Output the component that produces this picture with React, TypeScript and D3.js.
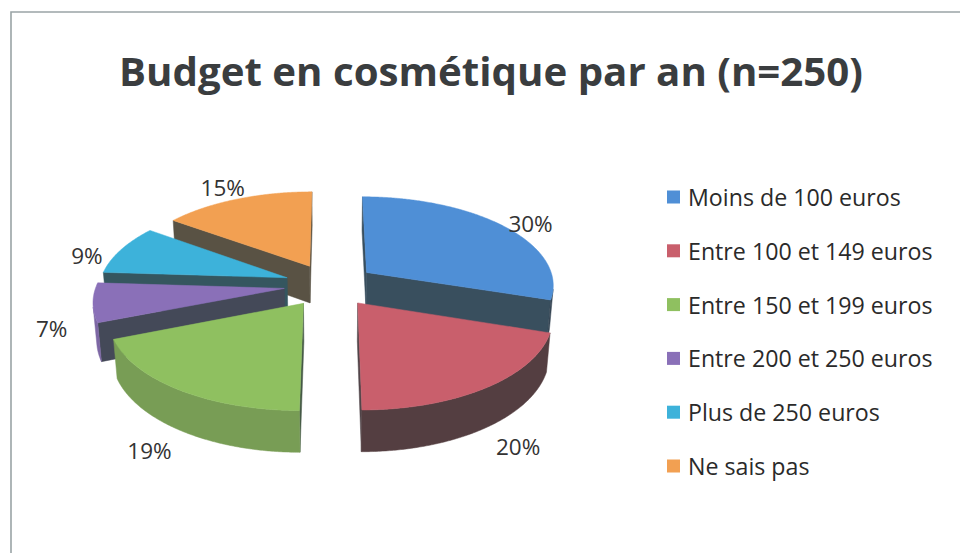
import React from "react";
import * as d3 from "d3";

const title = "Budget en cosmétique par an (n=250)";
const categories = [
  "Moins de 100 euros",
  "Entre 100 et 149 euros",
  "Entre 150 et 199 euros",
  "Entre 200 et 250 euros",
  "Plus de 250 euros",
  "Ne sais pas",
];
const values = [30, 20, 19, 7, 9, 15];
const colors = ["#4f8fd6", "#c95f6c", "#8fc060", "#8a70b8", "#3db2da", "#f2a052"];

const W = 960;
const H = 553;
const CX = 330;
const CY = 285;
const R = 188;
const EXPLODE = 46;
const DEPTH = 43;
const SIN_E = 0.47;
const COS_E = Math.sqrt(1 - SIN_E * SIN_E);
const DIST = 1300;
const CAM = [0, -DIST * COS_E, DIST * SIN_E];
const FONT = "'Open Sans', 'Liberation Sans', sans-serif";

type V3 = [number, number, number];

function project(p: V3): [number, number] {
  const [X, Y, Z] = p;
  const yc = Y * COS_E - Z * SIN_E;
  const k = DIST / (DIST + yc);
  return [CX + X * k, CY - (Y * SIN_E + Z * COS_E) * k];
}

function visible(n: V3, q: V3) {
  return n[0] * (CAM[0] - q[0]) + n[1] * (CAM[1] - q[1]) + n[2] * (CAM[2] - q[2]) > 0;
}

const line = d3.line();
function facePath(pts: V3[]) {
  return line(pts.map(project)) + "Z";
}

type Face = { d: string; fill: string };

function buildSlice(a0: number, a1: number, color: string) {
  const m = (a0 + a1) / 2;
  const ox = EXPLODE * Math.sin(m);
  const oy = EXPLODE * Math.cos(m);
  const rim = (phi: number, z: number): V3 => [ox + R * Math.sin(phi), oy + R * Math.cos(phi), z];
  const apexT: V3 = [ox, oy, 0];
  const apexB: V3 = [ox, oy, -DEPTH];
  const faces: Face[] = [];
  const radial = d3.interpolateRgb(color, "#333f40")(0.8);
  const t = Math.max(0.15, Math.min(0.8, 0.5 + 0.45 * Math.sin(m)));
  const outer = d3.interpolateRgb(color, "#303434")(t);

  const nS: V3 = [-Math.cos(a0), Math.sin(a0), 0];
  if (visible(nS, apexT)) {
    faces.push({ d: facePath([apexT, rim(a0, 0), rim(a0, -DEPTH), apexB]), fill: radial });
  }
  const nE: V3 = [Math.cos(a1), -Math.sin(a1), 0];
  if (visible(nE, apexT)) {
    faces.push({ d: facePath([apexT, rim(a1, 0), rim(a1, -DEPTH), apexB]), fill: radial });
  }
  const steps = Math.max(2, Math.ceil((a1 - a0) / (Math.PI / 360)));
  const vis: number[] = [];
  for (let i = 0; i < steps; i++) {
    const pm = a0 + ((a1 - a0) * (i + 0.5)) / steps;
    const n: V3 = [Math.sin(pm), Math.cos(pm), 0];
    if (visible(n, rim(pm, -DEPTH / 2))) vis.push(i);
  }
  if (vis.length) {
    const i0 = vis[0];
    const i1 = vis[vis.length - 1] + 1;
    const topArc: V3[] = [];
    const botArc: V3[] = [];
    for (let i = i0; i <= i1; i++) {
      const p = a0 + ((a1 - a0) * i) / steps;
      topArc.push(rim(p, 0));
      botArc.push(rim(p, -DEPTH));
    }
    faces.push({ d: facePath([...topArc, ...botArc.reverse()]), fill: outer });
  }
  const topPts: V3[] = [apexT];
  for (let i = 0; i <= steps; i++) topPts.push(rim(a0 + ((a1 - a0) * i) / steps, 0));
  faces.push({ d: facePath(topPts), fill: color });
  return { faces, depth: Math.cos(m), m };
}

export default function App() {
  const arcs = d3.pie<number>().sort(null).startAngle(0).endAngle(2 * Math.PI)(values);
  const slices = arcs.map((a, i) => ({ ...buildSlice(a.startAngle, a.endAngle, colors[i]), i }));
  const ordered = [...slices].sort((a, b) => b.depth - a.depth);
  const LABEL_R = 276;

  return (
    <svg width={W} height={H} style={{ position: "absolute", left: 0, top: 0, background: "#fff" }}>
      <rect x={0} y={0} width={W} height={H} fill="#ffffff" />
      <path d={`M11,${H} L11,12 L${W},12`} fill="none" stroke="#9aa4a6" strokeWidth={1.6} />
      <text
        x={491}
        y={86}
        textAnchor="middle"
        fontFamily={FONT}
        fontWeight={700}
        fontSize={39}
        textLength={744}
        lengthAdjust="spacingAndGlyphs"
        fill="#3a3d3f"
      >
        {title}
      </text>
      {ordered.map((s) => (
        <g key={s.i}>
          {s.faces.map((f, j) => (
            <path key={j} d={f.d} fill={f.fill} stroke={f.fill} strokeWidth={0.5} strokeLinejoin="round" />
          ))}
        </g>
      ))}
      {slices.map((s) => {
        const m = s.m;
        const [lx, ly] = project([
          LABEL_R * Math.sin(m),
          LABEL_R * Math.cos(m),
          (-DEPTH * (1 - Math.cos(m))) / 2,
        ]);
        return (
          <text key={s.i} x={lx} y={ly} textAnchor="middle" dominantBaseline="central" fontFamily={FONT} fontSize={22.5} fill="#333">
            {values[s.i]}%
          </text>
        );
      })}
      {categories.map((c, i) => {
        const y = 197 + i * 53.8;
        return (
          <g key={c}>
            <rect x={667} y={y - 6.5} width={13} height={13} fill={colors[i]} />
            <text x={688} y={y} dominantBaseline="central" fontFamily={FONT} fontSize={23.2} fill="#2a2a2a">
              {c}
            </text>
          </g>
        );
      })}
    </svg>
  );
}
